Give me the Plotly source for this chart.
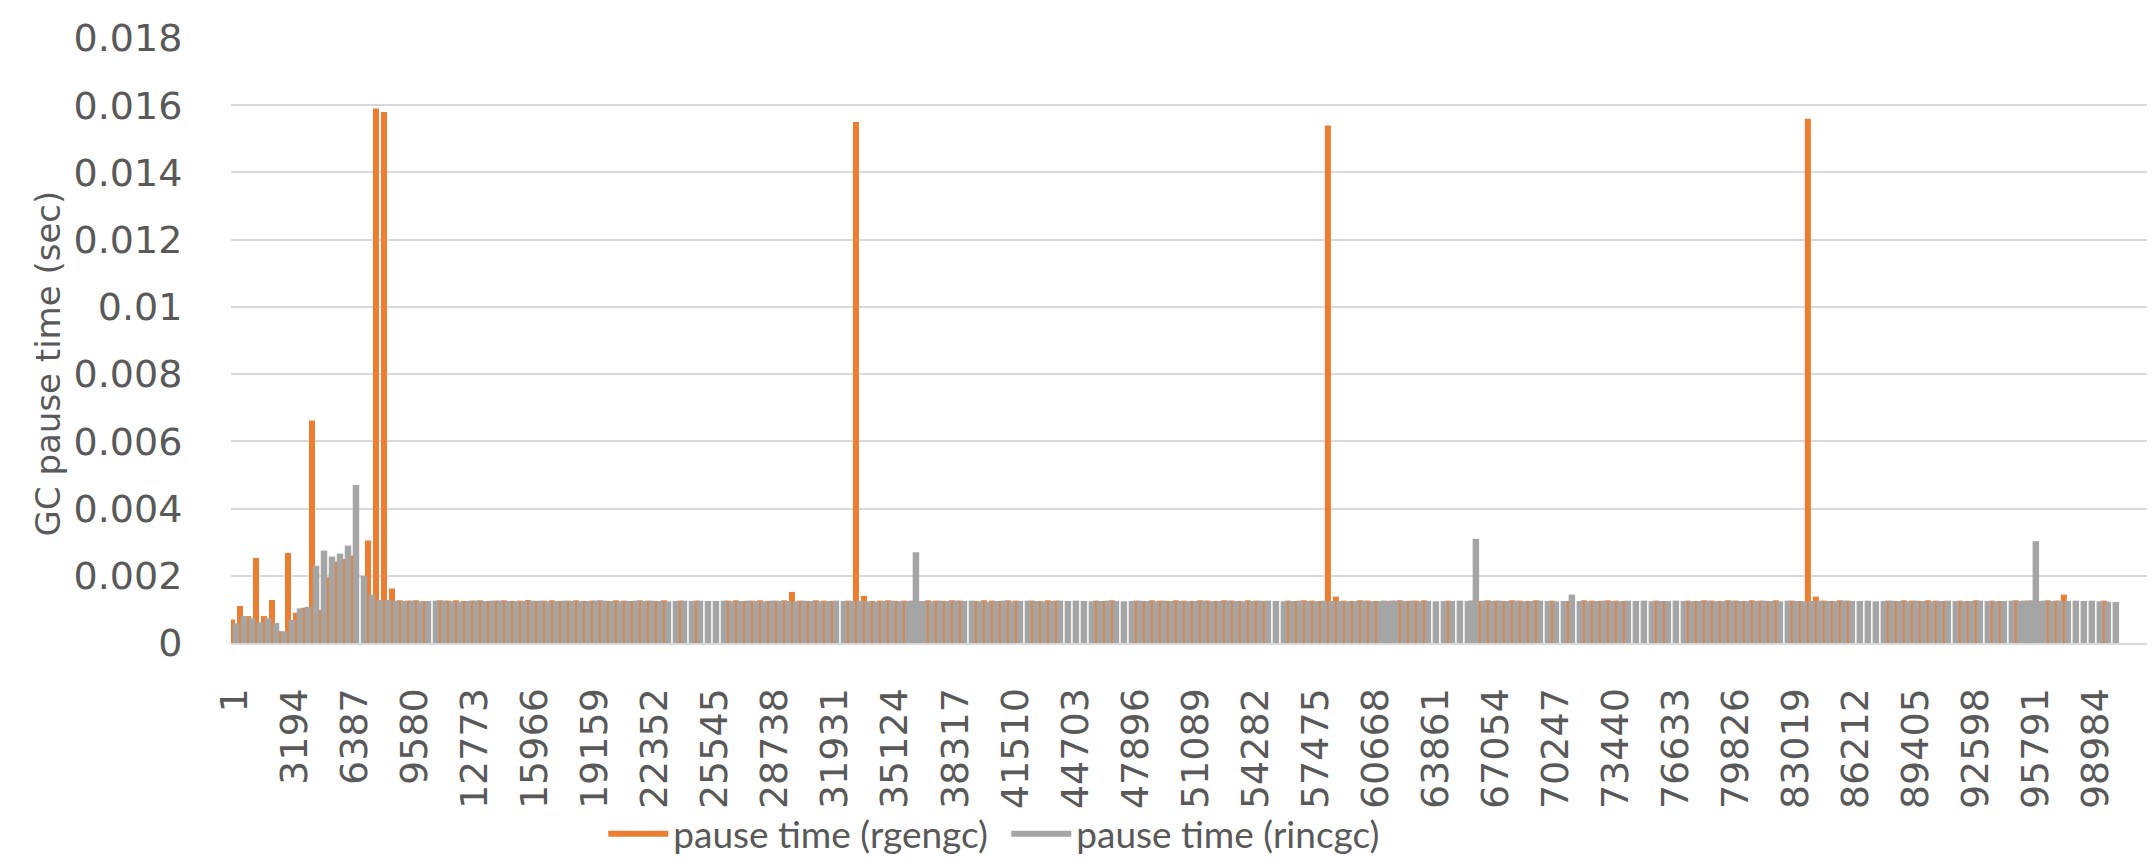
import plotly.graph_objects as go

# ---------------- data ----------------
x_tick_labels = ["1", "3194", "6387", "9580", "12773", "15966", "19159", "22352",
                 "25545", "28738", "31931", "35124", "38317", "41510", "44703",
                 "47896", "51089", "54282", "57475", "60668", "63861", "67054",
                 "70247", "73440", "76633", "79826", "83019", "86212", "89405",
                 "92598", "95791", "98984"]

gc_cycle_origin = 70        # category index of the first GC cycle
gc_cycle_length = 425.4     # categories per GC cycle

# rincgc pause time per cycle (sec)
rincgc_pause = [
    0.00059, 0.00080, 0.00074, 0.00062, 0.00074, 0.00060, 0.00035, 0.00069, 0.00103, 0.00108,
    0.00230, 0.00275, 0.00257, 0.00266, 0.00290, 0.00470, 0.00200, 0.00144, 0.00128, 0.00128,
    0.00126, 0.00125, 0.00126, 0.00124, 0.00125, 0.00126, 0.00126, 0.00124, 0.00123, 0.00125,
    0.00126, 0.00125, 0.00126, 0.00126, 0.00125, 0.00124, 0.00125, 0.00126, 0.00126, 0.00124,
    0.00125, 0.00126, 0.00125, 0.00124, 0.00125, 0.00126, 0.00126, 0.00125, 0.00124, 0.00125,
    0.00126, 0.00125, 0.00126, 0.00125, 0.00124, 0.00125, 0.00126, 0.00125, 0.00126, 0.00125,
    0.00125, 0.00126, 0.00124, 0.00125, 0.00126, 0.00125, 0.00124, 0.00126, 0.00125, 0.00125,
    0.00124, 0.00126, 0.00125, 0.00124, 0.00125, 0.00126, 0.00125, 0.00125, 0.00126, 0.00124,
    0.00123, 0.00125, 0.00126, 0.00124, 0.00125, 0.00270, 0.00125, 0.00124, 0.00126, 0.00125,
    0.00126, 0.00125, 0.00126, 0.00124, 0.00123, 0.00125, 0.00126, 0.00124, 0.00125, 0.00126,
    0.00125, 0.00124, 0.00125, 0.00126, 0.00125, 0.00126, 0.00125, 0.00124, 0.00125, 0.00126,
    0.00125, 0.00124, 0.00125, 0.00126, 0.00125, 0.00124, 0.00126, 0.00125, 0.00125, 0.00124,
    0.00125, 0.00126, 0.00124, 0.00125, 0.00126, 0.00125, 0.00124, 0.00125, 0.00126, 0.00126,
    0.00125, 0.00124, 0.00125, 0.00126, 0.00125, 0.00124, 0.00126, 0.00125, 0.00125, 0.00124,
    0.00125, 0.00126, 0.00124, 0.00124, 0.00125, 0.00126, 0.00125, 0.00126, 0.00124, 0.00125,
    0.00124, 0.00125, 0.00125, 0.00126, 0.00125, 0.00310, 0.00126, 0.00125, 0.00126, 0.00125,
    0.00126, 0.00124, 0.00125, 0.00126, 0.00125, 0.00124, 0.00125, 0.00144, 0.00125, 0.00124,
    0.00125, 0.00126, 0.00125, 0.00124, 0.00126, 0.00125, 0.00126, 0.00124, 0.00125, 0.00125,
    0.00126, 0.00125, 0.00124, 0.00125, 0.00126, 0.00124, 0.00125, 0.00126, 0.00125, 0.00124,
    0.00125, 0.00126, 0.00125, 0.00124, 0.00126, 0.00125, 0.00124, 0.00125, 0.00126, 0.00125,
    0.00124, 0.00126, 0.00125, 0.00125, 0.00126, 0.00124, 0.00125, 0.00126, 0.00125, 0.00124,
    0.00126, 0.00125, 0.00124, 0.00125, 0.00126, 0.00125, 0.00124, 0.00125, 0.00126, 0.00125,
    0.00124, 0.00125, 0.00126, 0.00125, 0.00126, 0.00303, 0.00126, 0.00125, 0.00126, 0.00125,
    0.00126, 0.00125, 0.00126, 0.00124, 0.00123, 0.00122,
]

# rgengc pause time at the cycle boundaries (sec); 0 = no pause
rgengc_pause = [
    0.00070, 0.00110, 0.00080, 0.00253, 0.00080, 0.00128, 0.00035, 0.00268, 0.00090, 0.00105,
    0.00662, 0.00098, 0.00195, 0.00242, 0.00250, 0.00260, 0, 0.00305, 0.01590, 0.01580,
    0.00162, 0.00127, 0.00126, 0.00127, 0.00125, 0, 0.00127, 0.00126, 0.00127, 0.00125,
    0.00126, 0.00127, 0.00125, 0.00126, 0.00127, 0.00125, 0.00126, 0.00128, 0.00125, 0.00126,
    0.00127, 0.00125, 0.00126, 0.00127, 0.00125, 0.00126, 0.00127, 0.00125, 0.00127, 0.00126,
    0.00125, 0.00127, 0.00126, 0.00125, 0.00127, 0, 0.00126, 0, 0.00126, 0,
    0, 0, 0.00126, 0.00127, 0.00125, 0.00126, 0.00127, 0.00125, 0.00126, 0.00127,
    0.00152, 0.00126, 0.00125, 0.00127, 0.00126, 0.00125, 0, 0.00126, 0.01550, 0.00140,
    0.00125, 0.00126, 0.00127, 0.00125, 0.00126, 0.00126, 0.00125, 0.00127, 0.00126, 0.00125,
    0.00127, 0.00126, 0, 0.00125, 0.00127, 0.00126, 0.00125, 0.00127, 0.00126, 0,
    0.00126, 0.00125, 0.00127, 0.00126, 0, 0, 0, 0, 0.00126, 0.00125,
    0.00127, 0, 0, 0.00126, 0.00125, 0.00127, 0.00126, 0.00125, 0.00127, 0.00126,
    0.00125, 0.00127, 0.00126, 0.00125, 0.00127, 0.00126, 0.00125, 0.00127, 0.00126, 0.00125,
    0, 0, 0.00126, 0.00125, 0.00127, 0.00126, 0.00125, 0.01540, 0.00138, 0.00126,
    0.00125, 0.00127, 0.00126, 0.00125, 0.00126, 0.00126, 0.00127, 0.00125, 0.00126, 0.00127,
    0, 0, 0.00126, 0, 0, 0.00126, 0.00125, 0.00127, 0.00126, 0.00125,
    0.00127, 0.00126, 0.00125, 0.00127, 0, 0.00126, 0, 0.00125, 0, 0.00127,
    0.00126, 0.00125, 0.00127, 0.00126, 0.00125, 0, 0, 0, 0.00126, 0.00125,
    0, 0, 0.00126, 0.00125, 0.00127, 0.00126, 0.00125, 0.00127, 0.00126, 0.00125,
    0.00127, 0.00126, 0.00125, 0.00127, 0, 0.00126, 0.00125, 0.01560, 0.00138, 0.00126,
    0.00125, 0.00127, 0.00126, 0, 0, 0, 0, 0.00126, 0.00125, 0.00127,
    0.00126, 0.00125, 0.00127, 0.00126, 0.00125, 0, 0.00126, 0.00125, 0.00127, 0,
    0.00126, 0.00125, 0, 0.00127, 0.00126, 0.00126, 0.00125, 0.00127, 0.00126, 0.00144,
    0, 0, 0, 0, 0.00126, 0,
]

# boundaries where rincgc pauses fill the whole cycle
rincgc_boundary_index = [85, 86, 144, 145, 155, 224, 225, 226]
rincgc_boundary_pause = [0.00125, 0.00125, 0.00125, 0.00125, 0.00126, 0.00125, 0.00126, 0.00125]

series_names = ["pause time (rgengc)", "pause time (rincgc)"]
series_colors = ["#ED7D31", "#A5A5A5"]
y_title = "GC pause time (sec)"

# ---------------- positions ----------------
cycle_x = [gc_cycle_origin + gc_cycle_length * i for i in range(len(rincgc_pause))]
boundary_x = [gc_cycle_origin + gc_cycle_length * (k - 0.5) for k in range(len(rgengc_pause))]
fill_x = [boundary_x[k] for k in rincgc_boundary_index]
tick_vals = [int(t) for t in x_tick_labels]

TXT = "#595959"
GRID = "#D9D9D9"

fig = go.Figure()
fig.add_trace(go.Bar(x=boundary_x, y=rgengc_pause, width=319,
                     marker=dict(color=series_colors[0], line=dict(width=0)),
                     showlegend=False, hoverinfo="skip"))
fig.add_trace(go.Bar(x=cycle_x, y=rincgc_pause, width=345,
                     marker=dict(color=series_colors[1], line=dict(width=0)),
                     showlegend=False, hoverinfo="skip"))
fig.add_trace(go.Bar(x=fill_x, y=rincgc_boundary_pause, width=430,
                     marker=dict(color=series_colors[1], line=dict(width=0)),
                     showlegend=False, hoverinfo="skip"))
for name, col in zip(series_names, series_colors):
    fig.add_trace(go.Scatter(x=[None], y=[None], mode="lines", name=name,
                             line=dict(color=col, width=6)))

fig.update_layout(
    width=2155, height=866,
    margin=dict(l=223, r=8, t=25, b=231),
    paper_bgcolor="white", plot_bgcolor="white",
    barmode="overlay",
    showlegend=True,
    legend=dict(orientation="h", x=0.1935, xanchor="left", y=-0.316, yanchor="middle",
                bgcolor="rgba(0,0,0,0)",
                font=dict(family="Lato", size=37, color=TXT),
                itemwidth=60, traceorder="normal",
                entrywidth=328, entrywidthmode="pixels"),
    hovermode=False,
    annotations=[dict(text=y_title, textangle=-90, showarrow=False,
                      xref="paper", yref="paper", x=-0.0946, y=0.462,
                      xanchor="center", yanchor="middle",
                      font=dict(family="DejaVu Sans", size=34, color=TXT))],
)
fig.update_xaxes(
    range=[-196, 102122],
    tickmode="array", tickvals=tick_vals, ticktext=x_tick_labels,
    tickangle=-90,
    tickfont=dict(family="DejaVu Sans", size=38, color=TXT),
    ticks="outside", ticklen=28, tickcolor="rgba(0,0,0,0)",
    showgrid=False, zeroline=False,
    showline=True, linecolor=GRID, linewidth=2,
)
fig.update_yaxes(
    range=[0, 0.018], dtick=0.002, tick0=0,
    tickfont=dict(family="DejaVu Sans", size=38, color=TXT),
    ticks="outside", ticklen=40, tickcolor="rgba(0,0,0,0)",
    showgrid=True, gridcolor=GRID, gridwidth=2,
    zeroline=False, showline=False,
)

fig.write_html("out.html")
